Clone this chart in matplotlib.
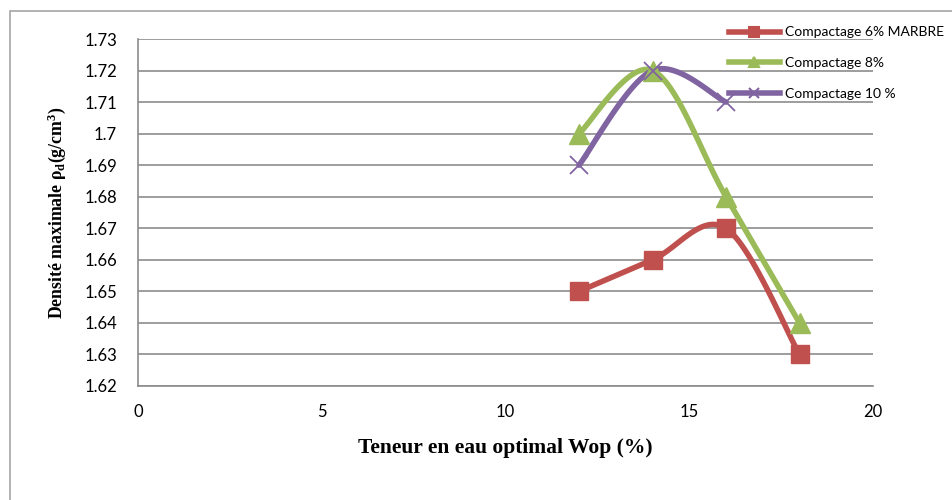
import numpy as np
import matplotlib.pyplot as plt
from matplotlib.patches import Rectangle

plt.rcParams['mathtext.fontset'] = 'custom'
plt.rcParams['mathtext.rm'] = 'Liberation Serif:bold'
plt.rcParams['mathtext.it'] = 'Liberation Serif:bold'
plt.rcParams['mathtext.bf'] = 'Liberation Serif:bold'

# données
wop_6 = [12, 14, 16, 18]
rho_6 = [1.65, 1.66, 1.67, 1.63]
wop_8 = [12, 14, 16, 18]
rho_8 = [1.70, 1.72, 1.68, 1.64]
wop_10 = [12, 14, 16]
rho_10 = [1.69, 1.72, 1.71]

labels = ['Compactage 6% MARBRE', 'Compactage 8%', 'Compactage 10 %']
colors = ['#C0504D', '#9BBB59', '#8064A2']
markers = ['s', '^', 'x']

xticks = [0, 5, 10, 15, 20]
yticks = [1.62, 1.63, 1.64, 1.65, 1.66, 1.67, 1.68, 1.69, 1.70, 1.71, 1.72, 1.73]
ytick_labels = ['1.62', '1.63', '1.64', '1.65', '1.66', '1.67', '1.68', '1.69', '1.7', '1.71', '1.72', '1.73']


def smooth(x, y, n=40):
    # courbe lissée façon Excel (Bezier / Catmull-Rom)
    p = np.column_stack([x, y]).astype(float)
    pts = [p[0]]
    for i in range(len(p) - 1):
        p0 = p[i - 1] if i > 0 else p[i]
        p1, p2 = p[i], p[i + 1]
        p3 = p[i + 2] if i + 2 < len(p) else p[i + 1]
        c1 = p1 + (p2 - p0) / 6
        c2 = p2 - (p3 - p1) / 6
        t = np.linspace(0, 1, n)[1:, None]
        seg = (1 - t) ** 3 * p1 + 3 * (1 - t) ** 2 * t * c1 + 3 * (1 - t) * t ** 2 * c2 + t ** 3 * p2
        pts.extend(seg)
    pts = np.array(pts)
    return pts[:, 0], pts[:, 1]


fig = plt.figure(figsize=(9.52, 5.0), dpi=100)
fig.patches.append(Rectangle((10 / 952, -0.1), 1.2, 1 - 11 / 500 + 0.1, transform=fig.transFigure,
                             fill=False, edgecolor='#A6A6A6', linewidth=1.2))
ax = fig.add_axes([138 / 952, 1 - 386 / 500, (873 - 138) / 952, (386 - 39) / 500])

series = [(wop_6, rho_6), (wop_8, rho_8), (wop_10, rho_10)]
handles = []
for (x, y), lab, c, m in zip(series, labels, colors, markers):
    sx, sy = smooth(x, y)
    ax.plot(sx, sy, color=c, linewidth=4, solid_capstyle='round', zorder=3)
    if m == 'x':
        ax.plot(x, y, linestyle='none', marker='x', markersize=13, markeredgewidth=1.3, color=c, zorder=4)
    else:
        ax.plot(x, y, linestyle='none', marker=m, markersize=13 if m == 's' else 14, color=c, zorder=4)
    h, = ax.plot([], [], color=c, linewidth=4, marker=m, markersize=7,
                 markeredgewidth=1.5, label=lab)
    handles.append(h)

ax.set_xlim(0, 20)
ax.set_ylim(1.62, 1.73)
ax.set_xticks(xticks)
ax.set_yticks(yticks)
ax.set_yticklabels(ytick_labels)
ax.tick_params(length=0, labelsize=12)
ax.tick_params(axis='x', pad=13)
ax.tick_params(axis='y', pad=15)
for t in ax.get_xticklabels() + ax.get_yticklabels():
    t.set_fontfamily('Lato')
ax.grid(axis='y', color='#8C8C8C', linewidth=1.2)
ax.set_axisbelow(True)
for s in ['top', 'right']:
    ax.spines[s].set_visible(False)
for s in ['left', 'bottom']:
    ax.spines[s].set_color('#8C8C8C')
    ax.spines[s].set_linewidth(1.2)

ax.set_xlabel('Teneur en eau optimal Wop (%)', fontsize=15.5, fontweight='bold',
              fontfamily='Liberation Serif', labelpad=13)
ax.set_ylabel(r'Densité maximale ρ$_\mathrm{d}$(g/cm$^\mathrm{3}$)', fontsize=12.8, fontweight='bold',
              fontfamily='Liberation Serif', labelpad=12)

fig.legend(handles=handles, loc='upper left', bbox_to_anchor=(716 / 952, 1 - 14 / 500),
           frameon=False, handlelength=3.7, handletextpad=0.35, labelspacing=1.35,
           prop={'family': 'Lato', 'size': 10})

fig.savefig('out.png', dpi=100)
